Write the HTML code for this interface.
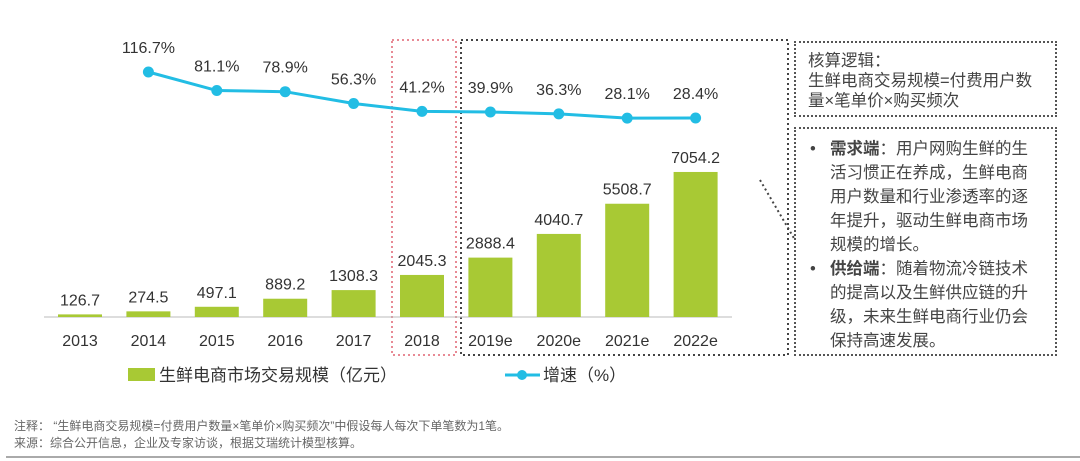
<!DOCTYPE html>
<html><head><meta charset="utf-8"><style>
body{margin:0;background:#fff;width:1080px;height:461px;overflow:hidden;font-family:"Liberation Sans","Noto Sans CJK SC",sans-serif;}
.box{position:absolute;border:2px dotted #555;box-sizing:border-box;white-space:nowrap;}
.t{position:absolute;color:#333;font-size:15px;line-height:20px;}
</style></head><body>
<svg id="chart" width="1080" height="461" style="position:absolute;left:0;top:0"></svg>
<div class="box" style="left:794px;top:41px;width:263px;height:76px;padding:8px 0 0 12px;font-size:16.5px;line-height:20px;color:#444">核算逻辑：<br>生鲜电商交易规模=付费用户数<br>量×笔单价×购买频次</div>
<div class="box" style="left:794px;top:127px;width:263px;height:229px;padding:8px 0 0 10px;font-size:16.5px;line-height:24px;color:#444">
<div style="padding-left:24px;position:relative"><span style="position:absolute;left:4px">•</span><b>需求端</b>：用户网购生鲜的生<br>活习惯正在养成，生鲜电商<br>用户数量和行业渗透率的逐<br>年提升，驱动生鲜电商市场<br>规模的增长。</div>
<div style="padding-left:24px;position:relative"><span style="position:absolute;left:4px">•</span><b>供给端</b>：随着物流冷链技术<br>的提高以及生鲜供应链的升<br>级，未来生鲜电商行业仍会<br>保持高速发展。</div>
</div>
<div class="t" style="left:14px;top:418px;font-size:12px;line-height:17px;color:#666">注释：&nbsp;“生鲜电商交易规模=付费用户数量×笔单价×购买频次”中假设每人每次下单笔数为1笔。<br>来源：综合公开信息，企业及专家访谈，根据艾瑞统计模型核算。</div>
<div style="position:absolute;left:6px;top:456px;width:1074px;height:2px;background:#aaa"></div>
<script>
const years=["2013","2014","2015","2016","2017","2018","2019e","2020e","2021e","2022e"];
const sizes=[126.7,274.5,497.1,889.2,1308.3,2045.3,2888.4,4040.7,5508.7,7054.2];
const growth=[null,116.7,81.1,78.9,56.3,41.2,39.9,36.3,28.1,28.4];
const NS="http://www.w3.org/2000/svg";
const svg=document.getElementById('chart');
function mk(tag,attrs,parent){const e=document.createElementNS(NS,tag);for(const k in attrs)e.setAttribute(k,attrs[k]);(parent||svg).appendChild(e);return e;}
const base=317;
function xs(i){return 80+i*68.4;}
function ys(v){return base-v*0.02056;}
function yg(v){return 118-(v-28.4)*0.521;}
let r=mk('rect',{x:392,y:40,width:64,height:315,fill:'none',stroke:'#e88a95','stroke-width':2,'stroke-dasharray':'2,3'});


r=mk('rect',{x:461,y:40,width:327,height:315,fill:'none',stroke:'#444','stroke-width':2,'stroke-dasharray':'2,3'});


let c=mk('line',{x1:760,y1:180,x2:795,y2:240,stroke:'#444','stroke-width':2,'stroke-dasharray':'2,3'});


let ax=mk('line',{x1:44,y1:base,x2:732,y2:base,stroke:'#bbb','stroke-width':1});


years.forEach((y,i)=>{
 const x=xs(i),top=ys(sizes[i]);
 const b=mk('rect',{x:x-22,y:top,width:44,height:base-top,fill:'#a8c934'});
 
 
 const t=mk('text',{x:x,y:top-9,'text-anchor':'middle','font-size':16,fill:'#333'});t.textContent=sizes[i].toFixed(1);
 
 
 const l=mk('text',{x:x,y:346,'text-anchor':'middle','font-size':16,fill:'#333'});l.textContent=y;
 
 
});
let pts=[];growth.forEach((g,i)=>{if(g!==null)pts.push([xs(i),yg(g),g]);});
const pl=mk('polyline',{points:pts.map(p=>p[0]+','+p[1]).join(' '),fill:'none',stroke:'#22bde4','stroke-width':3});


pts.forEach(p=>{
 const d=mk('circle',{cx:p[0],cy:p[1],r:5.5,fill:'#22bde4'});
 
 
 const t=mk('text',{x:p[0],y:p[1]-19,'text-anchor':'middle','font-size':16,fill:'#333'});t.textContent=p[2].toFixed(1)+'%';
 
 
});
const lg=mk('rect',{x:128,y:368,width:27,height:13,fill:'#a8c934'});


let lt=mk('text',{x:159,y:381,'font-size':17,fill:'#333'});lt.textContent='生鲜电商市场交易规模（亿元）';


const ll=mk('line',{x1:505,y1:375,x2:540,y2:375,stroke:'#22bde4','stroke-width':3});


const lc=mk('circle',{cx:522,cy:375,r:5,fill:'#22bde4'});


lt=mk('text',{x:543,y:381,'font-size':17,fill:'#333'});lt.textContent='增速（%）';


</script>
</body></html>
